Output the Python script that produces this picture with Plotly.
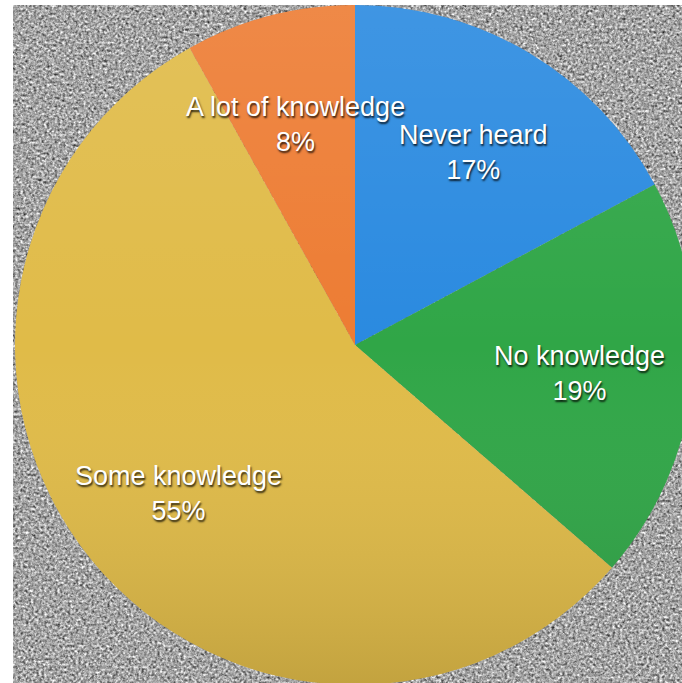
import base64
import plotly.graph_objects as go

# ---- data ----
labels = ["Never heard", "No knowledge", "Some knowledge", "A lot of knowledge"]
values = [17, 19, 55, 8]
colors = ["#2a8ae0", "#30a647", "#e0bb48", "#ed7c33"]

# ---- layout geometry (pixels) ----
W, H = 710, 690          # figure slightly larger than the window; overflow hidden
PIE_TOP, PIE_BOTTOM = 5, 685
BG_LEFT, BG_TOP = 13, 5
label_px = [(473, 152), (579, 373), (178, 493), (295, 124)]

def px(x, y):
    return x / W, 1 - y / H

fig = go.Figure(go.Pie(
    labels=labels,
    values=values,
    sort=False,
    direction="clockwise",
    rotation=0,
    marker=dict(colors=colors, line=dict(width=0)),
    textinfo="none",
    hoverinfo="label+value",
    domain=dict(x=[0, 1], y=[1 - PIE_BOTTOM / H, 1 - PIE_TOP / H]),
    showlegend=False,
))

# noisy grey backdrop (procedural SVG texture)
bg_w, bg_h = W - BG_LEFT, H - BG_TOP
noise_svg = f'''<svg xmlns="http://www.w3.org/2000/svg" width="{bg_w}" height="{bg_h}" viewBox="0 0 {bg_w} {bg_h}">
<filter id="f" x="0" y="0" width="100%" height="100%" color-interpolation-filters="sRGB">
<feTurbulence type="fractalNoise" baseFrequency="0.38" numOctaves="2" seed="4" stitchTiles="stitch"/>
<feColorMatrix type="matrix" values="0.33 0.33 0.33 0 0 0.33 0.33 0.33 0 0 0.33 0.33 0.33 0 0 0 0 0 0 1"/>
<feComponentTransfer>
<feFuncR type="linear" slope="1.7" intercept="-0.2"/>
<feFuncG type="linear" slope="1.7" intercept="-0.2"/>
<feFuncB type="linear" slope="1.7" intercept="-0.2"/>
</feComponentTransfer>
</filter>
<rect width="100%" height="100%" fill="#a4a4a4"/>
<rect width="100%" height="100%" filter="url(#f)"/>
</svg>'''
noise_uri = "data:image/svg+xml;base64," + base64.b64encode(noise_svg.encode()).decode()

# soft vertical shading over the pie
pw, ph = W, PIE_BOTTOM - PIE_TOP
r = ph / 2
shade_svg = f'''<svg xmlns="http://www.w3.org/2000/svg" width="{pw}" height="{ph}" viewBox="0 0 {pw} {ph}">
<defs><linearGradient id="g" x1="0" y1="0" x2="0" y2="1">
<stop offset="0" stop-color="#ffffff" stop-opacity="0.10"/>
<stop offset="0.5" stop-color="#ffffff" stop-opacity="0"/>
<stop offset="1" stop-color="#000000" stop-opacity="0.13"/>
</linearGradient></defs>
<circle cx="{pw/2}" cy="{r}" r="{r}" fill="url(#g)"/>
</svg>'''
shade_uri = "data:image/svg+xml;base64," + base64.b64encode(shade_svg.encode()).decode()

bx, by = px(BG_LEFT, BG_TOP)
sx, sy = px(0, PIE_TOP)
images = [
    dict(source=noise_uri, xref="paper", yref="paper", x=bx, y=by,
         sizex=1 - bx, sizey=by, xanchor="left", yanchor="top",
         sizing="stretch", layer="below"),
    dict(source=shade_uri, xref="paper", yref="paper", x=sx, y=sy,
         sizex=1, sizey=ph / H, xanchor="left", yanchor="top",
         sizing="stretch", layer="above"),
]

annotations = []
for lab, val, (x, y) in zip(labels, values, label_px):
    ax, ay = px(x, y)
    annotations.append(dict(
        text=f"{lab}<br>{val}%", x=ax, y=ay, xref="paper", yref="paper",
        xanchor="center", yanchor="middle", showarrow=False, align="center",
        font=dict(family="Liberation Sans, Arial, sans-serif", size=27,
                  color="white", shadow="1px 2px 2px rgba(0,0,0,0.8)"),
    ))

fig.update_layout(
    width=W, height=H,
    margin=dict(l=0, r=0, t=0, b=0),
    paper_bgcolor="white",
    plot_bgcolor="white",
    images=images,
    annotations=annotations,
)

fig.write_html(
    "out.html",
    post_script="document.body.style.margin='0';document.body.style.overflow='hidden';"
                "document.documentElement.style.overflow='hidden';",
)
